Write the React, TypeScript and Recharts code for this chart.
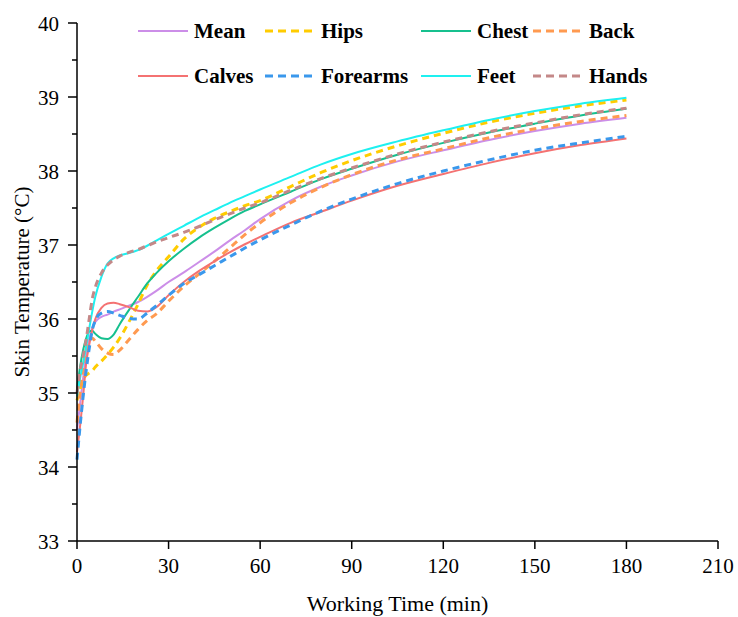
import React from "react";
import { LineChart, Line, XAxis, YAxis, Legend } from "recharts";

// time samples (min) and skin temperature per body site (°C)
const TIMES = [0, 1, 2, 3, 4, 5, 6, 8, 10, 12, 14, 17, 20, 23, 26, 30, 35, 40, 45, 50, 55, 60, 70, 80, 90, 105, 120, 135, 150, 165, 180];

const MEAN = [34.5, 34.85, 35.2, 35.5, 35.72, 35.88, 35.96, 36.03, 36.06, 36.1, 36.13, 36.18, 36.23, 36.3, 36.38, 36.5, 36.63, 36.77, 36.91, 37.06, 37.2, 37.35, 37.6, 37.79, 37.94, 38.13, 38.28, 38.42, 38.54, 38.64, 38.72];
const HIPS = [34.9, 35.05, 35.18, 35.24, 35.27, 35.3, 35.35, 35.43, 35.52, 35.62, 35.74, 35.96, 36.2, 36.46, 36.65, 36.84, 37.08, 37.24, 37.36, 37.45, 37.53, 37.6, 37.79, 37.98, 38.14, 38.34, 38.51, 38.66, 38.78, 38.88, 38.96];
const CHEST = [35.05, 35.35, 35.58, 35.74, 35.83, 35.84, 35.8, 35.74, 35.73, 35.79, 35.93, 36.12, 36.3, 36.48, 36.62, 36.78, 36.95, 37.1, 37.23, 37.35, 37.46, 37.55, 37.72, 37.89, 38.03, 38.22, 38.38, 38.52, 38.64, 38.75, 38.84];
const BACK = [34.6, 35.0, 35.35, 35.6, 35.72, 35.74, 35.7, 35.6, 35.54, 35.52, 35.58, 35.72, 35.86, 35.98, 36.07, 36.24, 36.44, 36.61, 36.78, 36.96, 37.14, 37.3, 37.57, 37.78, 37.95, 38.15, 38.3, 38.45, 38.57, 38.67, 38.75];
const CALVES = [34.2, 34.55, 34.95, 35.4, 35.65, 35.85, 36.0, 36.15, 36.21, 36.22, 36.2, 36.16, 36.11, 36.1, 36.16, 36.32, 36.5, 36.65, 36.78, 36.9, 37.01, 37.11, 37.3, 37.45, 37.6, 37.8, 37.96, 38.11, 38.24, 38.35, 38.44];
const FOREARMS = [34.1, 34.55, 34.95, 35.3, 35.6, 35.85, 35.98, 36.08, 36.1, 36.08, 36.05, 36.01, 36.0, 36.08, 36.18, 36.32, 36.48, 36.6, 36.72, 36.84, 36.96, 37.07, 37.27, 37.46, 37.62, 37.83, 38.0, 38.15, 38.28, 38.38, 38.47];
const FEET = [34.95, 35.2, 35.4, 35.62, 35.87, 36.1, 36.3, 36.57, 36.75, 36.82, 36.86, 36.89, 36.93, 36.99, 37.06, 37.15, 37.26, 37.37, 37.47, 37.57, 37.66, 37.75, 37.92, 38.09, 38.23, 38.4, 38.55, 38.69, 38.81, 38.91, 38.99];
const HANDS = [35.0, 35.3, 35.5, 35.72, 36.0, 36.27, 36.43, 36.62, 36.73, 36.8, 36.85, 36.9, 36.94, 36.99, 37.04, 37.1, 37.17, 37.25, 37.34, 37.42, 37.5, 37.57, 37.74, 37.9, 38.04, 38.23, 38.39, 38.53, 38.65, 38.76, 38.85];

const X_TICKS = [0, 30, 60, 90, 120, 150, 180, 210];
const Y_TICKS = [33, 33.5, 34, 34.5, 35, 35.5, 36, 36.5, 37, 37.5, 38, 38.5, 39, 39.5, 40];

const SERIES = [
  { key: "mean", name: "Mean", values: MEAN, color: "#cc8ee8", dashed: false },
  { key: "hips", name: "Hips", values: HIPS, color: "#ffcc00", dashed: true },
  { key: "chest", name: "Chest", values: CHEST, color: "#16c08e", dashed: false },
  { key: "back", name: "Back", values: BACK, color: "#ff9a50", dashed: true },
  { key: "calves", name: "Calves", values: CALVES, color: "#f47272", dashed: false },
  { key: "forearms", name: "Forearms", values: FOREARMS, color: "#3a98ec", dashed: true },
  { key: "feet", name: "Feet", values: FEET, color: "#1ef0f0", dashed: false },
  { key: "hands", name: "Hands", values: HANDS, color: "#c48888", dashed: true },
];

const FONT = "Liberation Serif";
const DASH = "7 5";

const rows = TIMES.map((t, i) => {
  const row: Record<string, number> = { t };
  SERIES.forEach((s) => {
    row[s.key] = s.values[i];
  });
  return row;
});

// eslint-disable-next-line @typescript-eslint/no-explicit-any
const YTick = (props: any) => {
  const { x, y, payload } = props;
  const major = Number.isInteger(payload.value);
  return (
    <g>
      <line x1={x - (major ? 9 : 5)} x2={x} y1={y} y2={y} stroke="#000" strokeWidth={1.5} />
      {major && (
        <text x={x - 18} y={y} dy="0.36em" textAnchor="end" fontFamily={FONT} fontSize={21} fill="#000">
          {payload.value}
        </text>
      )}
    </g>
  );
};

// eslint-disable-next-line @typescript-eslint/no-explicit-any
const XTick = (props: any) => {
  const { x, y, payload } = props;
  return (
    <g>
      <line x1={x} x2={x} y1={y} y2={y + 8} stroke="#000" strokeWidth={1.5} />
      <text x={x} y={y + 32} textAnchor="middle" fontFamily={FONT} fontSize={21} fill="#000">
        {payload.value}
      </text>
    </g>
  );
};

// legend laid out as 2 rows x 4 columns across the top of the plot
const LEGEND_COLS = [138, 265, 421, 533];
const LEGEND_ROWS = [31, 76];

const renderLegend = () => (
  <div style={{ position: "relative", width: 738, height: 100 }}>
    {SERIES.map((s, i) => (
      <div
        key={s.key}
        style={{
          position: "absolute",
          left: LEGEND_COLS[i % 4],
          top: LEGEND_ROWS[Math.floor(i / 4)] - 13,
          height: 26,
          display: "flex",
          alignItems: "center",
          whiteSpace: "nowrap",
        }}
      >
        <svg width={50} height={6} style={{ display: "block" }}>
          <line
            x1={0}
            x2={50}
            y1={3}
            y2={3}
            stroke={s.color}
            strokeWidth={s.dashed ? 3 : 2}
            strokeDasharray={s.dashed ? "8 5" : undefined}
          />
        </svg>
        <span style={{ marginLeft: 6, fontFamily: FONT, fontWeight: "bold", fontSize: 21, color: "#000" }}>
          {s.name}
        </span>
      </div>
    ))}
  </div>
);

export default function App() {
  return (
    <div style={{ width: 738, height: 617, background: "#fff" }}>
      <style>{"body{margin:0}"}</style>
      <LineChart width={738} height={617} data={rows} margin={{ top: 23, right: 20, bottom: 0, left: 0 }}>
        <XAxis
          dataKey="t"
          type="number"
          domain={[0, 210]}
          ticks={X_TICKS}
          height={76}
          tickSize={0}
          tickMargin={0}
          tickLine={false}
          axisLine={{ stroke: "#000", strokeWidth: 1.5 }}
          tick={<XTick />}
          interval={0}
          label={{
            content: ({ viewBox }: any) => (
              <text
                x={viewBox.x + viewBox.width / 2}
                y={viewBox.y + 70}
                textAnchor="middle"
                fontFamily={FONT}
                fontSize={22}
                fill="#000"
              >
                Working Time (min)
              </text>
            ),
          }}
        />
        <YAxis
          type="number"
          domain={[33, 40]}
          ticks={Y_TICKS}
          width={77}
          tickSize={0}
          tickMargin={0}
          tickLine={false}
          axisLine={{ stroke: "#000", strokeWidth: 1.5 }}
          tick={<YTick />}
          interval={0}
          allowDataOverflow
          label={{
            content: ({ viewBox }: any) => {
              const cx = viewBox.x + 22;
              const cy = viewBox.y + viewBox.height / 2;
              return (
                <text
                  x={cx}
                  y={cy}
                  dy="0.35em"
                  transform={`rotate(-90 ${cx} ${cy})`}
                  textAnchor="middle"
                  fontFamily={FONT}
                  fontSize={21}
                  fill="#000"
                >
                  Skin Temperature (°C)
                </text>
              );
            },
          }}
        />
        <Legend
          verticalAlign="middle"
          layout="horizontal"
          wrapperStyle={{ position: "absolute", top: 0, left: 0, width: 738, height: 100 }}
          content={renderLegend}
        />
        {SERIES.map((s) => (
          <Line
            key={s.key}
            type="monotone"
            dataKey={s.key}
            name={s.name}
            stroke={s.color}
            strokeWidth={s.dashed ? 3 : 2}
            strokeDasharray={s.dashed ? DASH : undefined}
            dot={false}
            activeDot={false}
            isAnimationActive={false}
          />
        ))}
      </LineChart>
    </div>
  );
}
